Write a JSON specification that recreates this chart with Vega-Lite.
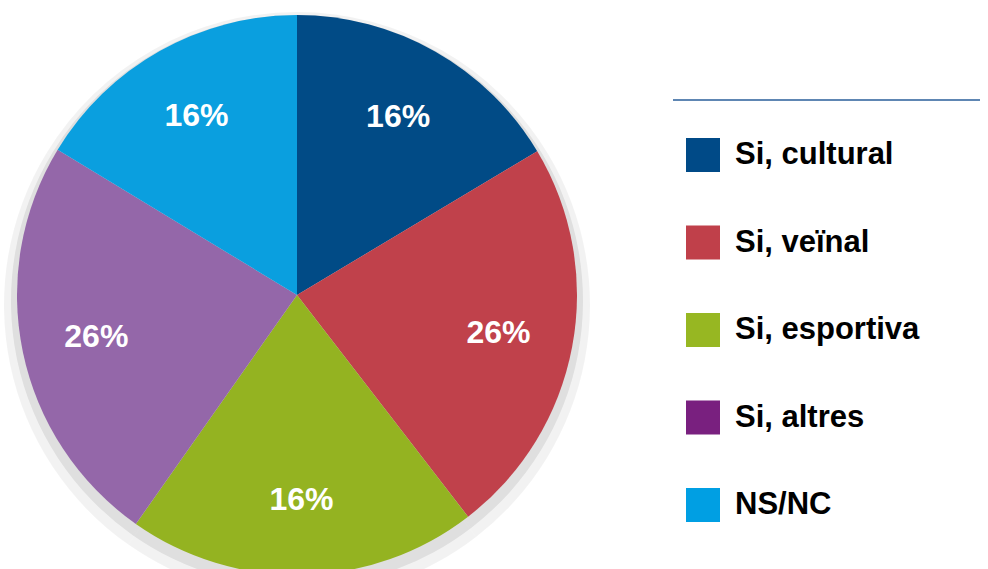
{
  "$schema": "https://vega.github.io/schema/vega-lite/v6.json",
  "width": 594,
  "height": 590,
  "autosize": {"type": "none"},
  "padding": {"left": 0, "top": 0, "right": 394, "bottom": -21},
  "background": "white",
  "config": {
    "view": {"stroke": null},
    "legend": {
      "orient": "none",
      "legendX": 648,
      "legendY": 100,
      "padding": 38,
      "titleOrient": "right",
      "titlePadding": 40,
      "symbolType": "square",
      "symbolSize": 1156,
      "symbolStrokeWidth": 0,
      "symbolOpacity": 1,
      "labelFont": "Liberation Sans",
      "labelFontWeight": "bold",
      "labelFontSize": 31,
      "labelColor": "#000000",
      "labelOffset": 15,
      "rowPadding": 53.5,
      "labelLimit": 400,
      "strokeColor": "#5e86b3",
      "strokeWidth": 2,
      "strokeDash": [0, 25, 307, 5000]
    }
  },
  "data": {
    "values": [
      {"k": 1, "cat": "Si, cultural", "v": 16.4, "label": "16%"},
      {"k": 2, "cat": "Si, veïnal", "v": 23.1, "label": "26%"},
      {"k": 3, "cat": "Si, esportiva", "v": 20.2, "label": "16%"},
      {"k": 4, "cat": "Si, altres", "v": 23.9, "label": "26%"},
      {"k": 5, "cat": "NS/NC", "v": 16.3, "label": "16%"}
    ]
  },
  "encoding": {
    "theta": {"field": "v", "type": "quantitative", "stack": true},
    "order": {"field": "k", "type": "quantitative"}
  },
  "layer": [
    {
      "mark": {"type": "arc", "outerRadius": 293, "yOffset": 10, "color": "#000000", "opacity": 0.05}
    },
    {
      "mark": {"type": "arc", "outerRadius": 286, "yOffset": 6, "color": "#000000", "opacity": 0.08}
    },
    {
      "mark": {"type": "arc", "outerRadius": 0, "opacity": 0},
      "encoding": {
        "color": {
          "field": "cat",
          "type": "nominal",
          "scale": {
            "domain": ["Si, cultural", "Si, veïnal", "Si, esportiva", "Si, altres", "NS/NC"],
            "range": ["#004a87", "#c0404a", "#97b722", "#79207f", "#009fe3"]
          },
          "legend": {"title": " "}
        }
      }
    },
    {
      "mark": {"type": "arc", "outerRadius": 280},
      "encoding": {
        "fill": {
          "field": "cat",
          "type": "nominal",
          "scale": {
            "domain": ["Si, cultural", "Si, veïnal", "Si, esportiva", "Si, altres", "NS/NC"],
            "range": ["#014b86", "#c0414b", "#94b321", "#9467a9", "#0a9fdf"]
          },
          "legend": null
        }
      }
    },
    {
      "mark": {"type": "text", "radius": 205, "color": "#ffffff", "font": "Liberation Sans", "fontWeight": "bold", "fontSize": 32},
      "encoding": {"text": {"field": "label"}}
    }
  ]
}
